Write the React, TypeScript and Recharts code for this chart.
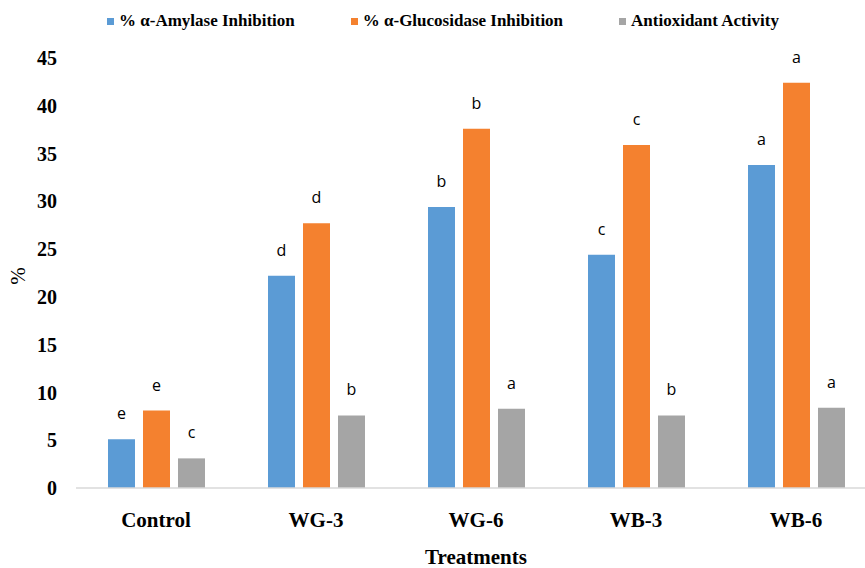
import React from "react";
import { BarChart, Bar, XAxis, YAxis, LabelList } from "recharts";

const categories = ["Control", "WG-3", "WG-6", "WB-3", "WB-6"];
const amylase = [5.1, 22.2, 29.4, 24.4, 33.8];
const glucosidase = [8.1, 27.7, 37.6, 35.9, 42.4];
const antioxidant = [3.1, 7.6, 8.3, 7.6, 8.4];
const amylaseLetters = ["e", "d", "b", "c", "a"];
const glucosidaseLetters = ["e", "d", "b", "c", "a"];
const antioxidantLetters = ["c", "b", "a", "b", "a"];
const yTicks = [0, 5, 10, 15, 20, 25, 30, 35, 40, 45];

const seriesNames = ["% α-Amylase Inhibition", "% α-Glucosidase Inhibition", "Antioxidant Activity"];
const colors = ["#5B9BD5", "#F4812F", "#A5A5A5"];

const data = categories.map((c, i) => ({
  name: c,
  amylase: amylase[i],
  glucosidase: glucosidase[i],
  antioxidant: antioxidant[i],
  la: amylaseLetters[i],
  lg: glucosidaseLetters[i],
  lo: antioxidantLetters[i],
}));

const serif = "'Liberation Serif', 'Times New Roman', serif";
const sans = "'Open Sans', 'Liberation Sans', sans-serif";

const letterStyle = { fontFamily: sans, fontSize: 16, fill: "#000" };

const YLabel = () => (
  <text
    x={18}
    y={276}
    transform="rotate(-90 18 276)"
    textAnchor="middle"
    dominantBaseline="central"
    style={{ fontFamily: serif, fontSize: 21, fill: "#000" }}
  >
    %
  </text>
);

export default function App() {
  return (
    <div style={{ position: "absolute", left: 0, top: 0, width: 865, height: 568, overflow: "hidden", background: "#fff" }}>
      <div
        style={{
          position: "absolute",
          left: 107,
          top: 11,
          display: "flex",
          alignItems: "center",
          gap: 56,
          fontFamily: serif,
          fontWeight: "bold",
          fontSize: 17,
          whiteSpace: "nowrap",
          color: "#000",
        }}
      >
        {seriesNames.map((n, i) => (
          <div key={n} style={{ display: "flex", alignItems: "center" }}>
            <span style={{ display: "inline-block", width: 7, height: 7, background: colors[i], marginRight: 5 }} />
            <span>{n}</span>
          </div>
        ))}
      </div>
      <BarChart
        width={880}
        height={568}
        data={data}
        margin={{ top: 58, right: 4, left: 0, bottom: 0 }}
        barSize={27}
        barGap={8}
      >
        <XAxis
          dataKey="name"
          height={80}
          tickSize={0}
          tickMargin={24}
          axisLine={{ stroke: "#D9D9D9", strokeWidth: 1.5 }}
          tick={{ fontFamily: serif, fontSize: 21, fontWeight: "bold", fill: "#000" }}
          label={{
            value: "Treatments",
            position: "insideBottom",
            offset: 4,
            style: { fontFamily: serif, fontSize: 21, fontWeight: "bold", fill: "#000" },
          }}
        />
        <YAxis
          width={76}
          domain={[0, 45]}
          ticks={yTicks}
          interval={0}
          axisLine={false}
          tickLine={false}
          tickSize={0}
          tickMargin={19}
          tick={{ fontFamily: serif, fontSize: 20, fontWeight: "bold", fill: "#000" }}
          label={<YLabel />}
        />
        <Bar dataKey="amylase" fill={colors[0]} isAnimationActive={false}>
          <LabelList dataKey="la" position="top" offset={20} style={letterStyle} />
        </Bar>
        <Bar dataKey="glucosidase" fill={colors[1]} isAnimationActive={false}>
          <LabelList dataKey="lg" position="top" offset={20} style={letterStyle} />
        </Bar>
        <Bar dataKey="antioxidant" fill={colors[2]} isAnimationActive={false}>
          <LabelList dataKey="lo" position="top" offset={20} style={letterStyle} />
        </Bar>
      </BarChart>
    </div>
  );
}
